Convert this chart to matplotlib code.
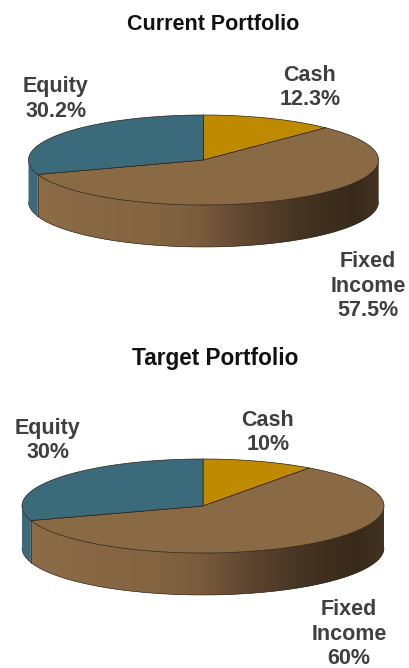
import numpy as np
import matplotlib
matplotlib.use('Agg')
import matplotlib.pyplot as plt
from matplotlib.colors import LinearSegmentedColormap
from matplotlib.patches import Polygon

plt.rcParams['font.family'] = ['Liberation Sans', 'DejaVu Sans']

# data
categories = ['Cash', 'Fixed\nIncome', 'Equity']
current_values = [12.3, 57.5, 30.2]
target_values = [10, 60, 30]
current_labels = ['12.3%', '57.5%', '30.2%']
target_labels = ['10%', '60%', '30%']

colors = ['#c08a00', '#8a6a45', '#3b6a7b']
side_stops = [(0.0, '#8d6d48'), (0.35, '#846441'), (0.49, '#7a5c3c'), (0.63, '#5e4530'),
              (0.77, '#463423'), (0.93, '#38291b'), (1.0, '#433322')]
side_cmap = LinearSegmentedColormap.from_list('side', side_stops)
EDGE = '#2a2015'
TEXT = '#3f3f3f'


def rim(cx, cy, rx, ry, a0, a1):
    # a0, a1 in degrees, clockwise from the top of the ellipse
    t = np.radians(np.linspace(a0, a1, max(int(abs(a1 - a0)) * 2, 2)))
    return np.column_stack([cx + rx * np.sin(t), cy - ry * np.cos(t)])


def draw_pie(ax, values, cx, cy, rx, ry, depth):
    edges = np.cumsum([0] + list(values)) * 360.0 / sum(values)

    # sides first, only the front half of the rim shows
    for i, col in enumerate(colors):
        a0 = max(edges[i], 90)
        a1 = min(edges[i + 1], 270)
        if a1 <= a0:
            continue
        top = rim(cx, cy, rx, ry, a0, a1)
        bot = rim(cx, cy + depth, rx, ry, a1, a0)
        poly = Polygon(np.vstack([top, bot]), closed=True, fc=col, ec='none', zorder=2)
        ax.add_patch(poly)
        if i == 1:
            # gradient runs left to right along the wall
            grad = np.linspace(0, 1, 256).reshape(1, -1)
            im = ax.imshow(grad, cmap=side_cmap, aspect='auto', zorder=2.1,
                           extent=[cx - rx, cx + rx, cy + ry + depth, cy])
            im.set_clip_path(poly)
        ax.plot(bot[:, 0], bot[:, 1], color=EDGE, lw=0.4, zorder=3)

    # wall separator at the slice border
    for a in edges[1:-1]:
        if 90 < a < 270:
            p = rim(cx, cy, rx, ry, a, a + 1)[0]
            ax.plot([p[0], p[0]], [p[1], p[1] + depth], color=EDGE, lw=0.4, zorder=3)

    # top face
    for i, col in enumerate(colors):
        pts = np.vstack([[cx, cy], rim(cx, cy, rx, ry, edges[i], edges[i + 1])])
        ax.add_patch(Polygon(pts, closed=True, fc=col, ec=EDGE, lw=0.5,
                             joinstyle='round', zorder=4))


fig = plt.figure(figsize=(4.09, 6.68), dpi=100)
ax = fig.add_axes([0, 0, 1, 1])

draw_pie(ax, current_values, 203.5, 160, 175, 45, 42)
draw_pie(ax, target_values, 203, 506, 181, 47, 42)

ax.set_xlim(0, 409)
ax.set_ylim(668, 0)
ax.axis('off')

ax.text(213, 25, 'Current Portfolio', fontsize=15.5, fontweight='bold',
        color='#111111', ha='center', va='center')
ax.text(215, 359, 'Target Portfolio', fontsize=16.3, fontweight='bold',
        color='#111111', ha='center', va='center')

current_pos = [(310, 87.5), (368, 286), (56, 99)]
target_pos = [(268, 432.5), (349, 634), (48, 440.5)]
for pos, labs in ((current_pos, current_labels), (target_pos, target_labels)):
    for (x, y), c, v in zip(pos, categories, labs):
        ax.text(x, y, c + '\n' + v, fontsize=15.5, fontweight='bold', color=TEXT,
                ha='center', va='center', linespacing=1.22)

fig.savefig('out.png', dpi=100)
